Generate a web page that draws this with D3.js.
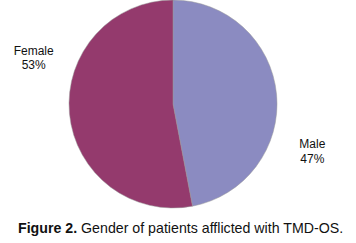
<!DOCTYPE html>
<html>
<head>
<meta charset="utf-8">
<script src="https://cdn.jsdelivr.net/npm/d3@7"></script>
<style>
  body { margin: 0; background: #fff; }
  svg { display: block; }
</style>
</head>
<body>
<svg id="pie"></svg>
<script>
// data
const categories = ["Male", "Female"];
const values = [47, 53];
const sliceColors = ["#8b8bc1", "#943a6d"];

function makePie() {
    let w = 356;
    let h = 243;
    let cx = 173, cy = 104, r = 104;

    let svg = d3.select("#pie")
        .attr("width", w)
        .attr("height", h);

    let data = categories.map((c, i) => ({ name: c, value: values[i] }));

    let pie = d3.pie().sort(null).value(d => d.value);
    let arc = d3.arc().innerRadius(0).outerRadius(r);

    let color = d3.scaleOrdinal().domain(categories).range(sliceColors);

    let g = svg.append("g").attr("transform", `translate(${cx},${cy})`);

    g.selectAll("path")
      .data(pie(data))
      .enter()
      .append("path")
      .attr("d", arc)
      .attr("fill", d => color(d.data.name))
      .attr("stroke", "#9a9a9a")
      .attr("stroke-width", 0.5);

    // labels sit outside the pie, a bit rotated from the slice middle like excel does
    let labelR = 147;
    let labelShift = 24 * Math.PI / 180;
    let labels = g.selectAll("text.lbl")
      .data(pie(data))
      .enter()
      .append("text")
      .attr("class", "lbl")
      .attr("font-family", "Liberation Sans, Arial, sans-serif")
      .attr("font-size", "12px")
      .attr("fill", "#111")
      .attr("text-anchor", "middle")
      .attr("transform", d => {
          let a = (d.startAngle + d.endAngle) / 2 + labelShift;
          return `translate(${labelR * Math.sin(a)},${-labelR * Math.cos(a)})`;
      });
    labels.append("tspan").attr("x", 0).attr("dy", "-0.2em").text(d => d.data.name);
    labels.append("tspan").attr("x", 0).attr("dy", "1.2em")
      .text(d => Math.round(d.value / d3.sum(values) * 100) + "%");

    let cap = svg.append("text")
      .attr("x", 18)
      .attr("y", 233)
      .attr("font-family", "Liberation Sans, Arial, sans-serif")
      .attr("font-size", "14.2px")
      .attr("fill", "#111");
    cap.append("tspan").attr("font-weight", "bold").text("Figure 2.");
    cap.append("tspan").text(" Gender of patients afflicted with TMD-OS.");
}

window.onload = function() {
    makePie();
}
</script>
</body>
</html>
